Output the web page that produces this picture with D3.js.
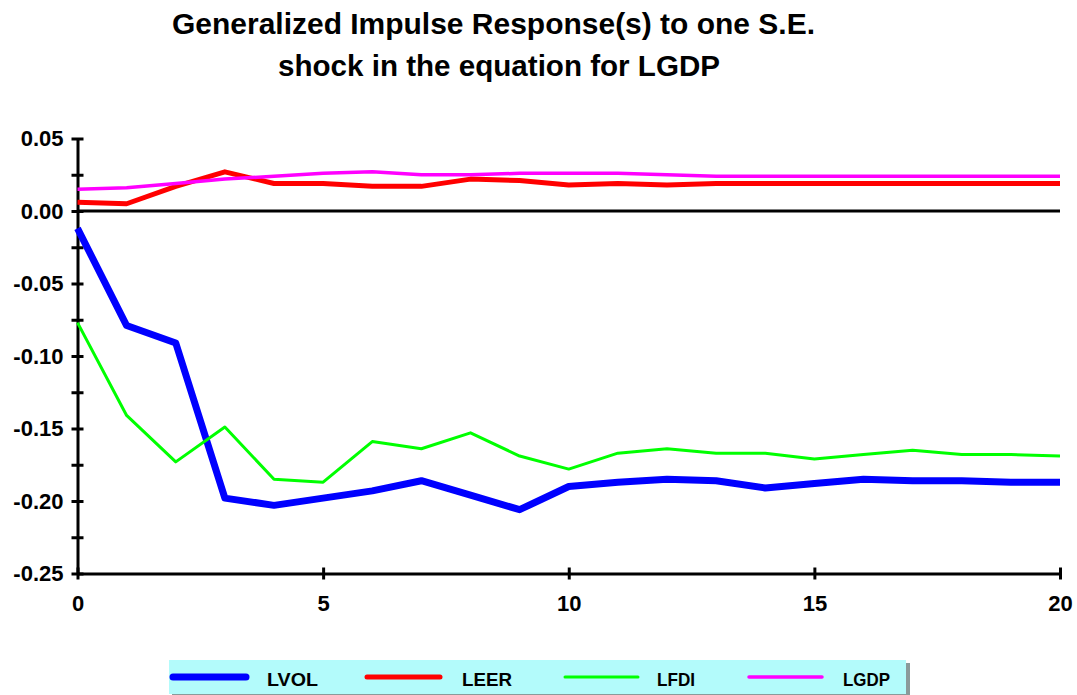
<!DOCTYPE html>
<html>
<head>
<meta charset="utf-8">
<script src="https://d3js.org/d3.v7.min.js"></script>
<style>
  body { margin: 0; background: #fff; }
  text { font-family: "Liberation Sans", Arial, sans-serif; font-weight: bold; fill: #000; }
</style>
</head>
<body>
<svg id="chart" width="1077" height="695"></svg>

<script>
// horizon (periods after the shock)
const steps = [0, 1, 2, 3, 4, 5, 6, 7, 8, 9, 10, 11, 12, 13, 14, 15, 16, 17, 18, 19, 20]

// responses
const lvol = [-0.012, -0.079, -0.091, -0.198, -0.203, -0.198, -0.193, -0.186, -0.196, -0.206, -0.190,
              -0.187, -0.185, -0.186, -0.191, -0.188, -0.185, -0.186, -0.186, -0.187, -0.187]
const leer = [0.006, 0.005, 0.017, 0.027, 0.019, 0.019, 0.017, 0.017, 0.022, 0.021, 0.018,
              0.019, 0.018, 0.019, 0.019, 0.019, 0.019, 0.019, 0.019, 0.019, 0.019]
const lfdi = [-0.077, -0.141, -0.173, -0.149, -0.185, -0.187, -0.159, -0.164, -0.153, -0.169, -0.178,
              -0.167, -0.164, -0.167, -0.167, -0.171, -0.168, -0.165, -0.168, -0.168, -0.169]
const lgdp = [0.015, 0.016, 0.019, 0.022, 0.024, 0.026, 0.027, 0.025, 0.025, 0.026, 0.026,
              0.026, 0.025, 0.024, 0.024, 0.024, 0.024, 0.024, 0.024, 0.024, 0.024]

const seriesNames = ["LVOL", "LEER", "LFDI", "LGDP"]
const seriesColors = ["#0000ff", "#ff0000", "#00ff00", "#ff00ff"]
const seriesWidths = [7, 5, 3, 3.5]

// axis ticks
const xTickLabels = [0, 5, 10, 15, 20]
const yTickLabels = [0.05, 0.00, -0.05, -0.10, -0.15, -0.20, -0.25]
const yMinorTicks = [0.025, -0.025, -0.075, -0.125, -0.175, -0.225]

const titleLines = ["Generalized Impulse Response(s) to one S.E.", "shock in the equation for LGDP"]

//layout
const plotLeft = 77.5
const plotRight = 1060
const plotTop = 138.5
const plotBottom = 573.5

const svg = d3.select("#chart")

const x = d3.scaleLinear().domain([0, 20]).range([plotLeft, plotRight])
const y = d3.scaleLinear().domain([-0.25, 0.05]).range([plotBottom, plotTop])

// title
svg.append("text")
  .attr("x", 493.5).attr("y", 34)
  .attr("text-anchor", "middle")
  .attr("font-size", 29)
  .attr("textLength", 643).attr("lengthAdjust", "spacingAndGlyphs")
  .text(titleLines[0])
svg.append("text")
  .attr("x", 499).attr("y", 76)
  .attr("text-anchor", "middle")
  .attr("font-size", 29)
  .attr("textLength", 442).attr("lengthAdjust", "spacingAndGlyphs")
  .text(titleLines[1])

// y axis, ticks cross the line
const yAxis = svg.append("g")
  .attr("transform", "translate(" + plotLeft + ",0)")
  .call(d3.axisLeft(y)
    .tickValues(yTickLabels.concat(yMinorTicks))
    .tickSize(0)
    .tickPadding(14)
    .tickFormat(d => yTickLabels.includes(d) ? d.toFixed(2) : ""))
yAxis.select(".domain").attr("stroke", "#000").attr("stroke-width", 3)
yAxis.selectAll(".tick line").attr("x1", -6).attr("x2", 6).attr("stroke", "#000").attr("stroke-width", 3)
yAxis.selectAll(".tick text").attr("font-size", 22).attr("font-family", "Liberation Sans, Arial, sans-serif").attr("fill", "#000")

// x axis
const xAxis = svg.append("g")
  .attr("transform", "translate(0," + plotBottom + ")")
  .call(d3.axisBottom(x)
    .tickValues(xTickLabels)
    .tickSize(0)
    .tickPadding(22)
    .tickFormat(d3.format("d")))
xAxis.select(".domain").attr("stroke", "#000").attr("stroke-width", 3)
xAxis.selectAll(".tick line").attr("y1", -6).attr("y2", 6).attr("stroke", "#000").attr("stroke-width", 3)
xAxis.selectAll(".tick text").attr("font-size", 22).attr("font-family", "Liberation Sans, Arial, sans-serif").attr("fill", "#000")

// zero line
svg.append("line")
  .attr("x1", x(0)).attr("x2", x(20))
  .attr("y1", y(0)).attr("y2", y(0))
  .attr("stroke", "#000").attr("stroke-width", 3)

// response lines
const allSeries = [lvol, leer, lfdi, lgdp]
const line = d3.line()
  .x((d, i) => x(steps[i]))
  .y(d => y(d))

svg.selectAll(".resp")
  .data(allSeries)
  .join("path")
    .attr("class", "resp")
    .attr("fill", "none")
    .attr("stroke", (d, i) => seriesColors[i])
    .attr("stroke-width", (d, i) => seriesWidths[i])
    .attr("stroke-linejoin", "round")
    .attr("d", line)

// legend
const legend = svg.append("g")
legend.append("rect")
  .attr("x", 172).attr("y", 663).attr("width", 738).attr("height", 34)
  .attr("fill", "#8a9a9a")
legend.append("rect")
  .attr("x", 169).attr("y", 660).attr("width", 737).attr("height", 34)
  .attr("fill", "#b3fbfb")

const legendLineX = [173, 367, 565, 749]
const legendTextX = [267, 462, 657, 843]
const legendTextW = [51, 50, 38, 47]
seriesNames.forEach(function(name, i) {
  legend.append("line")
    .attr("x1", legendLineX[i]).attr("x2", legendLineX[i] + 73)
    .attr("y1", 677).attr("y2", 677)
    .attr("stroke", seriesColors[i])
    .attr("stroke-width", seriesWidths[i])
    .attr("stroke-linecap", "round")
  legend.append("text")
    .attr("x", legendTextX[i]).attr("y", 686)
    .attr("font-size", 19)
    .attr("textLength", legendTextW[i]).attr("lengthAdjust", "spacingAndGlyphs")
    .text(name)
})
</script>
</body>
</html>
